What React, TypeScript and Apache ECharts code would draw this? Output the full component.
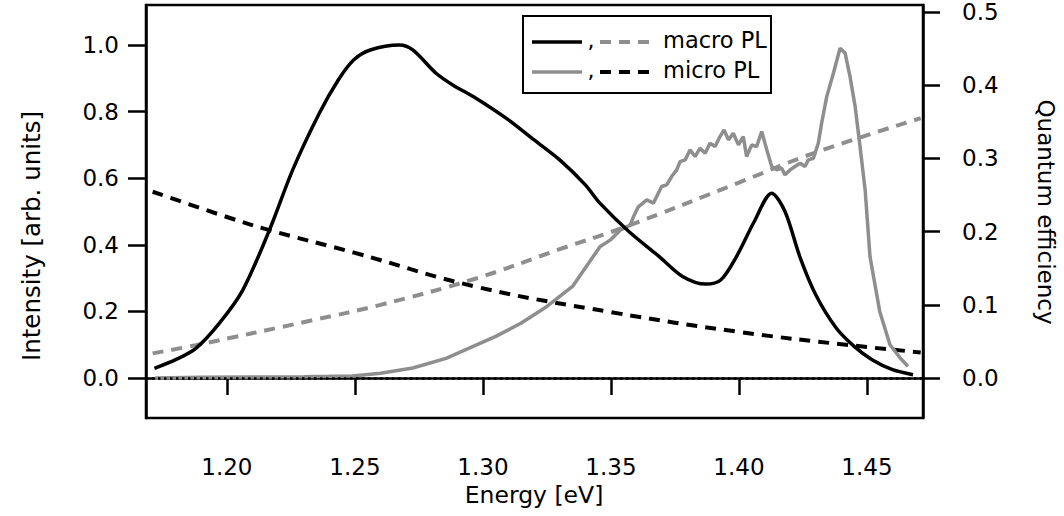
import React, { useEffect, useRef } from "react";
import * as echarts from "echarts";

// ---- Data ----
const energyTicks = [1.2, 1.25, 1.3, 1.35, 1.4, 1.45];
const intensityTicks = [0, 0.2, 0.4, 0.6, 0.8, 1.0];
const qeTicks = [0, 0.1, 0.2, 0.3, 0.4, 0.5];

// macro PL intensity (black solid, left axis)
const macroPLEnergy = [
  1.1717, 1.18, 1.1879, 1.197, 1.2062, 1.2166, 1.2257, 1.2361, 1.2435, 1.2495, 1.256, 1.2674,
  1.2726, 1.2817, 1.2882, 1.2973, 1.31, 1.32, 1.33, 1.34, 1.3457, 1.357, 1.369, 1.378, 1.387,
  1.393, 1.399, 1.406, 1.4128, 1.418, 1.4238, 1.43, 1.438, 1.445, 1.452, 1.46, 1.468,
];
const macroPLIntensity = [
  0.029, 0.055, 0.089, 0.164, 0.264, 0.444, 0.625, 0.795, 0.895, 0.955, 0.985, 1.0,
  0.985, 0.915, 0.88, 0.84, 0.775, 0.715, 0.655, 0.58, 0.525, 0.44, 0.364, 0.305, 0.282,
  0.295, 0.364, 0.47, 0.555, 0.5, 0.364, 0.25, 0.15, 0.095, 0.055, 0.025, 0.01,
];

// micro PL intensity (gray solid, left axis)
const microPLEnergy = [
  1.172, 1.19, 1.21, 1.23, 1.24, 1.249, 1.26, 1.2726, 1.2856, 1.2973, 1.305, 1.315, 1.325,
  1.335, 1.3457, 1.3497, 1.3536, 1.3575, 1.3588, 1.3607, 1.364, 1.3666, 1.3685, 1.3698,
  1.3718, 1.3737, 1.3757, 1.377, 1.379, 1.3809, 1.3829, 1.3848, 1.3868, 1.3887, 1.3907,
  1.3926, 1.3942, 1.3959, 1.3978, 1.3998, 1.4017, 1.403, 1.405, 1.4069, 1.4089, 1.4109,
  1.4128, 1.4148, 1.4167, 1.418, 1.42, 1.4219, 1.4239, 1.4258, 1.4271, 1.4291, 1.431,
  1.4323, 1.4343, 1.4369, 1.4395, 1.4415, 1.4434, 1.4454, 1.4473, 1.4493, 1.4512, 1.455,
  1.459, 1.463, 1.466,
];
const microPLIntensity = [
  0.0, 0.002, 0.003, 0.004, 0.005, 0.006, 0.014, 0.03, 0.059, 0.099, 0.125, 0.165, 0.215,
  0.275, 0.394, 0.414, 0.444, 0.459, 0.484, 0.514, 0.535, 0.525, 0.555, 0.575,
  0.58, 0.605, 0.625, 0.65, 0.655, 0.685, 0.665, 0.69, 0.675, 0.705, 0.695,
  0.725, 0.745, 0.715, 0.735, 0.7, 0.725, 0.665, 0.7, 0.695, 0.74, 0.685,
  0.635, 0.625, 0.63, 0.61, 0.625, 0.635, 0.645, 0.635, 0.655, 0.66, 0.705,
  0.765, 0.845, 0.915, 0.99, 0.975, 0.905, 0.815, 0.695, 0.565, 0.364, 0.2,
  0.1, 0.06, 0.035,
];

// macro QE (gray dashed, right axis)
const macroQEEnergy = [1.171, 1.1879, 1.2335, 1.26, 1.2973, 1.33, 1.356, 1.4, 1.429, 1.471];
const macroQE = [0.0337, 0.045, 0.079, 0.1, 0.136, 0.176, 0.207, 0.267, 0.307, 0.355];

// micro QE (black dashed, right axis)
const microQEEnergy = [1.171, 1.2, 1.2166, 1.25, 1.2973, 1.35, 1.4, 1.443, 1.471];
const microQE = [0.2545, 0.22, 0.202, 0.171, 0.1247, 0.09, 0.063, 0.045, 0.035];

const pairs = (xs: number[], ys: number[]) => xs.map((x, i) => [x, ys[i]]);

const FONT = "DejaVu Sans";
const GRAY = "#8e8e8e";

export default function App() {
  const ref = useRef<HTMLDivElement>(null);
  useEffect(() => {
    document.body.style.margin = "0";
    const chart = echarts.init(ref.current!, null, { renderer: "svg" });
    const axisLine = { show: true, lineStyle: { color: "#000", width: 2.5 } };
    const tickLabel = { fontSize: 23, color: "#000", fontFamily: FONT };
    const option: any = {
      animation: false,
      backgroundColor: "#fff",
      textStyle: { fontFamily: FONT },
      grid: {
        left: 146,
        right: 1064 - 923,
        top: 5,
        bottom: 516 - 418,
        show: true,
        borderColor: "#000",
        borderWidth: 2.5,
        backgroundColor: "transparent",
      },
      xAxis: {
        type: "value",
        min: 1.1684,
        max: 1.4719,
        axisLine,
        axisTick: { show: true, length: 17, customValues: energyTicks, lineStyle: { color: "#000", width: 2.5 } },
        axisLabel: { ...tickLabel, customValues: energyTicks, formatter: (v: number) => v.toFixed(2), margin: 37 },
        splitLine: { show: false },
      },
      yAxis: [
        {
          type: "value",
          min: -0.1201,
          max: 1.1201,
          axisLine,
          axisTick: { show: true, length: 18, customValues: intensityTicks, lineStyle: { color: "#000", width: 2.5 } },
          axisLabel: { ...tickLabel, customValues: intensityTicks, formatter: (v: number) => v.toFixed(1), margin: 27 },
          splitLine: { show: false },
        },
        {
          type: "value",
          position: "right",
          min: -0.0546,
          max: 0.5096,
          axisLine,
          axisTick: { show: true, length: 17, customValues: qeTicks, lineStyle: { color: "#000", width: 2.5 } },
          axisLabel: { ...tickLabel, customValues: qeTicks, formatter: (v: number) => v.toFixed(1), margin: 39 },
          splitLine: { show: false },
        },
      ],
      series: [
        {
          name: "macro QE",
          type: "line",
          yAxisIndex: 1,
          data: pairs(macroQEEnergy, macroQE),
          smooth: 0.4,
          showSymbol: false,
          lineStyle: { color: GRAY, width: 4, type: [11, 8] },
          z: 2,
        },
        {
          name: "micro QE",
          type: "line",
          yAxisIndex: 1,
          data: pairs(microQEEnergy, microQE),
          smooth: 0.4,
          showSymbol: false,
          lineStyle: { color: "#000", width: 4, type: [11, 8] },
          z: 2,
        },
        {
          name: "micro PL",
          type: "line",
          yAxisIndex: 0,
          data: pairs(microPLEnergy, microPLIntensity),
          showSymbol: false,
          lineStyle: { color: GRAY, width: 3.5 },
          z: 3,
        },
        {
          name: "macro PL",
          type: "line",
          yAxisIndex: 0,
          data: pairs(macroPLEnergy, macroPLIntensity),
          smooth: 0.3,
          showSymbol: false,
          lineStyle: { color: "#000", width: 3.5 },
          z: 4,
          markLine: {
            silent: true,
            symbol: "none",
            label: { show: false },
            lineStyle: { color: "#000", width: 2.5, type: [2.5, 3.5] },
            data: [{ yAxis: 0 }],
          },
        },
      ],
      graphic: [
        {
          type: "text",
          x: 31,
          y: 236,
          rotation: Math.PI / 2,
          style: { text: "Intensity [arb. units]", font: `24.5px "${FONT}"`, fill: "#000", align: "center", verticalAlign: "middle" },
        },
        {
          type: "text",
          x: 1046,
          y: 212,
          rotation: -Math.PI / 2,
          style: { text: "Quantum efficiency", font: `23px "${FONT}"`, fill: "#000", align: "center", verticalAlign: "middle" },
        },
        {
          type: "text",
          x: 534,
          y: 495,
          style: { text: "Energy [eV]", font: `23.5px "${FONT}"`, fill: "#000", align: "center", verticalAlign: "middle" },
        },
        {
          type: "group",
          z: 100,
          children: [
            { type: "rect", shape: { x: 523, y: 16, width: 248, height: 77 }, style: { fill: "#fff", stroke: "#000", lineWidth: 2 } },
            { type: "line", shape: { x1: 532, y1: 42, x2: 582, y2: 42 }, style: { stroke: "#000", lineWidth: 3.5 } },
            { type: "text", x: 591, y: 40, style: { text: ",", font: `22px "${FONT}"`, fill: "#000", align: "center", verticalAlign: "middle" } },
            { type: "line", shape: { x1: 600, y1: 42, x2: 652, y2: 42 }, style: { stroke: GRAY, lineWidth: 4, lineDash: [11, 8] } },
            { type: "text", x: 663, y: 40, style: { text: "macro PL", font: `22.5px "${FONT}"`, fill: "#000", align: "left", verticalAlign: "middle" } },
            { type: "line", shape: { x1: 532, y1: 72, x2: 582, y2: 72 }, style: { stroke: GRAY, lineWidth: 3.5 } },
            { type: "text", x: 591, y: 70, style: { text: ",", font: `22px "${FONT}"`, fill: "#000", align: "center", verticalAlign: "middle" } },
            { type: "line", shape: { x1: 600, y1: 72, x2: 652, y2: 72 }, style: { stroke: "#000", lineWidth: 4, lineDash: [11, 8] } },
            { type: "text", x: 663, y: 70, style: { text: "micro PL", font: `22.5px "${FONT}"`, fill: "#000", align: "left", verticalAlign: "middle" } },
          ],
        },
      ],
    };
    chart.setOption(option);
    return () => chart.dispose();
  }, []);
  return <div ref={ref} style={{ width: 1064, height: 516 }} />;
}
